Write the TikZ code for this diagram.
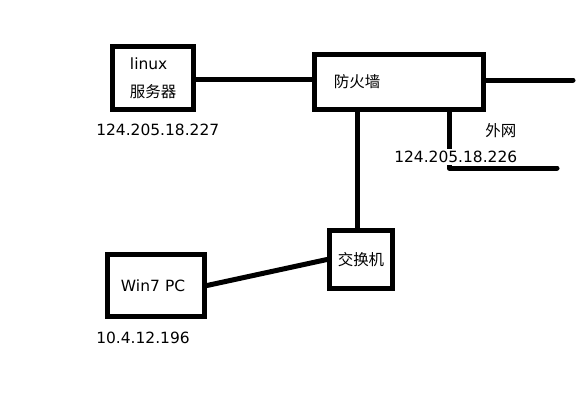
\documentclass[tikz,border=0pt]{standalone}
\usepackage{fontspec}
\setmainfont{DejaVu Sans}
\newfontfamily\cjk{Noto Sans CJK SC}
\usepackage{tikz}
\usetikzlibrary{positioning,calc}

\begin{document}
\begin{tikzpicture}[
    x=0.025cm, y=-0.025cm,
    font=\fontsize{11}{14}\selectfont,
    box/.style={draw, line width=0.125cm, align=left, inner ysep=0pt},
    link/.style={line width=0.125cm, line cap=round, line join=round},
    addr/.style={anchor=west, inner sep=0pt}
]
\useasboundingbox[fill=white] (0,0) rectangle (579,415);

% boxes
\node[box, minimum width=2.025cm, minimum height=1.575cm, text width=1.15cm, inner xsep=0.4375cm] (srv) at (153,78) {linux\\[6pt]{\cjk 服务器}};
\node[box, minimum width=4.225cm, minimum height=1.375cm, text width=3.25cm, inner xsep=0.4875cm] (fw) at (399,82) {\cjk 防火墙};
\node[box, minimum width=1.575cm, minimum height=1.45cm, align=center] (sw) at (361,259.5) {\cjk 交换机};
\node[box, minimum width=2.425cm, minimum height=1.55cm, text width=1.75cm, inner xsep=0.3375cm] (pc) at (156,285.5) {Win7 PC};

% free ends
\coordinate (wan1) at (573,80);
\coordinate (bend) at (449,168);
\coordinate (wan2) at (557,168);

% links
\draw[link] (srv.east |- 0,79) -- (fw.west |- 0,79);
\draw[link] (fw.east |- wan1) -- (wan1);
\draw[link] (fw.south -| 357,0) -- (sw.north -| 357,0);
\draw[link] (fw.south -| bend) -- (bend) -- (wan2);
\draw[link] (pc.east) -- (sw.west);

% addresses
\node[addr] (ipsrv) at (96,130) {124.205.18.227};
\node[addr] (lblwan) at (485,131) {\cjk 外网};
\node[addr, fill=white, inner ysep=1.4pt] (ipfw) at (394,157) {124.205.18.226};
\node[addr] (ippc) at (96,338) {10.4.12.196};
\end{tikzpicture}
\end{document}
